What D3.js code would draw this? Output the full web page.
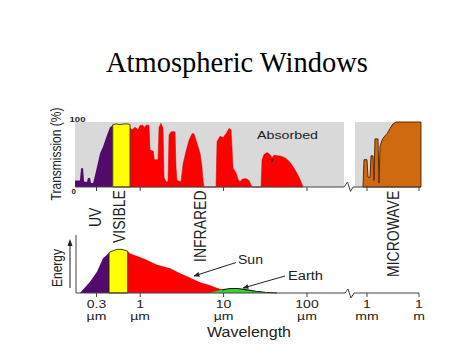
<!DOCTYPE html>
<html><head><meta charset="utf-8">
<script src="https://cdn.jsdelivr.net/npm/d3@7"></script>
<style>html,body{margin:0;padding:0;background:#fff;}svg{display:block}</style>
</head><body>
<svg id="chart" width="474" height="355"></svg>
<script>
// ---------- data ----------
const titleText = "Atmospheric Windows";
const bandLabels = ["UV", "VISIBLE", "INFRARED", "MICROWAVE"];
const tickValues = [0.3, 1, 10, 100, 1000, 1e6];          // wavelength in µm
const tickNumbers = ["0.3", "1", "10", "100", "1", "1"];
const tickUnits = ["µm", "µm", "µm", "µm", "mm", "m"];
const yTickLabels = ["0", "100"];

// atmospheric transmission (%) vs wavelength (µm)
const uvLambda = [0.166, 0.166, 0.190, 0.196, 0.207, 0.213, 0.231, 0.237, 0.251, 0.258, 0.273, 0.288, 0.313, 0.331, 0.359, 0.401, 0.436, 0.47, 0.47];
const uvTrans  = [0, 10, 10, 29, 29, 8, 8, 14, 14, 6, 6, 18, 38, 52, 62, 80, 92, 95, 0];
const visLambda = [0.47, 0.47, 0.514, 0.574, 0.641, 0.716, 0.757, 0.757];
const visTrans  = [0, 96, 97, 96, 97, 97, 96, 0];
const irLambda = [0.757, 0.757, 0.80, 0.869, 0.944, 1.0, 1.083, 1.114, 1.177, 1.279, 1.314, 1.44, 1.48, 1.639, 1.685, 1.78, 1.882, 1.934, 2.044, 2.16, 2.221, 2.346, 2.62, 2.694, 2.769, 3.092, 3.268, 3.549, 3.856, 4.189, 4.426, 4.677, 4.943, 5.224, 5.52, 5.675, 5.834, 8.123, 8.351, 9.071, 9.854, 10.7, 11.63, 12.29, 12.63, 12.99, 14.11, 14.91, 15.76, 16.65, 18.59, 20.2, 21.34, 21.94, 28.12, 28.91, 30.55, 33.19, 36.06, 38.1, 40.27, 44.97, 50.22, 56.07, 62.62, 69.94, 78.09, 84.83, 89.65];
const irTrans  = [0, 91, 88, 92, 88, 95, 95, 91, 95, 95, 57, 55, 42, 42, 92, 98, 90, 15, 8, 8, 80, 85, 85, 30, 10, 8, 35, 55, 72, 82, 82, 72, 62, 52, 30, 10, 0, 0, 70, 78, 76, 82, 90, 88, 60, 29, 22, 12, 8, 12, 13, 10, 3, 0, 0, 42, 50, 53, 50, 45, 49, 48, 47, 44, 38, 29, 18, 8, 0];
const mwLambda = [588, 671, 1000, 1142, 1490, 1702, 2220, 2534, 2894, 4311, 4924, 5623, 7336, 9567, 14250, 21230, 31620, 47120, 1.3e6, 1.3e6];
const mwTrans  = [0, 42, 42, 15, 15, 48, 48, 10, 74, 74, 6, 62, 72, 77, 82, 90, 97, 100, 100, 0];

// emitted energy (relative) vs wavelength (µm)
const sunLambda = [0.19, 0.251, 0.304, 0.359, 0.416, 0.424, 0.46, 0.529, 0.607, 0.71, 0.757, 1.083, 1.594, 2.283, 3.008, 3.964, 5.224, 6.883, 8.351, 11.0, 15.76, 25, 43.7];
const sunEnergy = [0, 25, 47, 77, 88, 90, 93, 97, 97, 93, 88, 77, 63, 55, 44, 34, 24, 17, 11, 5, 2, 1, 0];
const sunBandEdges = [0.424, 0.71];
const earthLambda = [6.51, 7.90, 9.59, 11.95, 14.91, 19.11, 24.5, 31.4, 43.7];
const earthEnergy = [0, 4, 7, 10, 10, 7, 4, 1.5, 0];

// ---------- layout ----------
const svg = d3.select("#chart");
const SANS = "'Liberation Sans', Arial, sans-serif";
const C = {grey: "#d9d9d9", purple: "#520a6c", yellow: "#ffff00", red: "#ff0000", orange: "#d06a10", green: "#33d433", axis: "#444"};

const xNear = d3.scaleLog().domain([0.3, 100]).range([96.5, 307]);
const xFar  = d3.scaleLog().domain([1000, 1e6]).range([367, 419]);
const x = v => v < 500 ? xNear(v) : xFar(v);
const yT = d3.scaleLinear().domain([0, 100]).range([187, 122]);
const yE = d3.scaleLinear().domain([0, 100]).range([293, 248]);
const zip = (a, b) => a.map((v, i) => [v, b[i]]);

// title
svg.append("text").attr("x", 237).attr("y", 72).attr("text-anchor", "middle")
  .attr("font-family", "'Liberation Serif','Times New Roman',serif").attr("font-size", 28.5)
  .attr("fill", "#000").text(titleText);

// ---------- top panel: transmission ----------
const topG = svg.append("g");
topG.append("rect").attr("x", 75).attr("y", yT(100)).attr("width", 344 - 75).attr("height", yT(0) - yT(100)).attr("fill", C.grey);
topG.append("rect").attr("x", 355).attr("y", yT(100)).attr("width", 421 - 355).attr("height", yT(0) - yT(100)).attr("fill", C.grey);

const areaT = d3.area().x(d => x(d[0])).y0(yT(0)).y1(d => yT(d[1]));
topG.append("path").attr("d", areaT(zip(uvLambda, uvTrans))).attr("fill", C.purple);
topG.append("path").attr("d", areaT(zip(irLambda, irTrans))).attr("fill", C.red).attr("stroke", "#d00000").attr("stroke-width", 0.5);
topG.append("path").attr("d", areaT(zip(visLambda, visTrans))).attr("fill", C.yellow).attr("stroke", "#3a3a00").attr("stroke-width", 0.9);
topG.append("path").attr("d", areaT(zip(mwLambda, mwTrans))).attr("fill", C.orange).attr("stroke", "#4a2000").attr("stroke-width", 0.9);

// baseline with break
topG.append("path").attr("d", `M75,${yT(0)}H344L347.5,182L350.5,191.5L353,${yT(0)}H421`)
  .attr("fill", "none").attr("stroke", C.axis).attr("stroke-width", 1);
topG.selectAll("line.tick").data(tickValues).join("line")
  .attr("x1", d => x(d)).attr("x2", d => x(d)).attr("y1", yT(0)).attr("y2", yT(0) + 4)
  .attr("stroke", C.axis).attr("stroke-width", 1);

// y tick labels
topG.append("text").attr("x", 73.7).attr("y", 193.5).attr("text-anchor", "middle")
  .attr("font-family", SANS).attr("font-weight", "bold").attr("font-size", 8).attr("fill", "#222").text(yTickLabels[0]);
topG.append("g").attr("transform", "translate(77.5,121.5) scale(1.2,1)").append("text").attr("text-anchor", "middle")
  .attr("font-family", SANS).attr("font-weight", "bold").attr("font-size", 8).attr("fill", "#222").text(yTickLabels[1]);

// y axis title
topG.append("g").attr("transform", "translate(61,154) scale(1.15,1) rotate(-90)").append("text")
  .attr("text-anchor", "middle").attr("font-family", SANS).attr("font-size", 12).attr("fill", "#222").text("Transmission (%)");

// Absorbed
topG.append("text").attr("x", 257).attr("y", 138.5).attr("font-family", SANS).attr("font-size", 11)
  .attr("textLength", 61).attr("lengthAdjust", "spacingAndGlyphs").attr("fill", "#222").text("Absorbed");
topG.append("path").attr("d", "M270,159.5L274,159.5L272,163Z").attr("fill", "#222");

// band labels (rotated)
const bandPos = [[101, 227], [125, 243], [206, 262], [399, 277]];
svg.selectAll("g.band").data(bandLabels).join("g")
  .attr("transform", (d, i) => `translate(${bandPos[i][0]},${bandPos[i][1]}) scale(1.2,1) rotate(-90)`)
  .append("text").attr("font-family", SANS).attr("font-size", 14).attr("fill", "#222").text(d => d);

// ---------- bottom panel: energy ----------
const bot = svg.append("g");
const areaE = d3.area().x(d => x(d[0])).y0(yE(0)).y1(d => yE(d[1]));
const sunPts = zip(sunLambda, sunEnergy);
bot.append("path").attr("d", areaE(sunPts.filter(d => d[0] <= sunBandEdges[0]))).attr("fill", C.purple);
bot.append("path").attr("d", areaE(sunPts.filter(d => d[0] >= sunBandEdges[1]))).attr("fill", C.red);
bot.append("path").attr("d", areaE(sunPts.filter(d => d[0] >= sunBandEdges[0] && d[0] <= sunBandEdges[1])))
  .attr("fill", C.yellow).attr("stroke", "#2a2a00").attr("stroke-width", 0.9);
const earthPts = zip(earthLambda, earthEnergy);
bot.append("path").attr("d", areaE(earthPts)).attr("fill", C.green);
bot.append("path").attr("d", d3.line().x(d => x(d[0])).y(d => yE(d[1]))(earthPts.filter(d => d[0] >= 9.5)))
  .attr("fill", "none").attr("stroke", "#1a1a1a").attr("stroke-width", 1.1);

// axes
bot.append("line").attr("x1", 76).attr("x2", 76).attr("y1", 235).attr("y2", yE(0)).attr("stroke", C.axis);
bot.append("path").attr("d", `M76,${yE(0)}H345L348,289L351,298L354,${yE(0)}H419`)
  .attr("fill", "none").attr("stroke", C.axis).attr("stroke-width", 1);
bot.selectAll("line.tick").data(tickValues).join("line")
  .attr("x1", d => x(d)).attr("x2", d => x(d)).attr("y1", yE(0)).attr("y2", yE(0) + 4)
  .attr("stroke", C.axis).attr("stroke-width", 1);

// tick labels: number over unit
const tl = bot.selectAll("g.tl").data(tickValues).join("g")
  .attr("transform", d => `translate(${x(d)},0)`);
tl.append("g").attr("transform", "translate(0,307.5) scale(1.35,1)").append("text")
  .attr("text-anchor", "middle").attr("font-family", SANS).attr("font-size", 10.4).attr("fill", "#222")
  .text((d, i) => tickNumbers[i]);
tl.append("g").attr("transform", "translate(0,319.5) scale(1.35,1)").append("text")
  .attr("text-anchor", "middle").attr("font-family", SANS).attr("font-size", 10.4).attr("fill", "#222")
  .text((d, i) => tickUnits[i]);

bot.append("text").attr("x", 207).attr("y", 336.5).attr("font-family", SANS).attr("font-size", 14)
  .attr("textLength", 84).attr("lengthAdjust", "spacingAndGlyphs").attr("fill", "#222").text("Wavelength");

// Energy label + arrow
bot.append("g").attr("transform", "translate(61.5,268) scale(1.15,1) rotate(-90)").append("text")
  .attr("text-anchor", "middle").attr("font-family", SANS).attr("font-size", 12).attr("fill", "#222").text("Energy");
bot.append("line").attr("x1", 70).attr("x2", 70).attr("y1", 288).attr("y2", 245).attr("stroke", "#222");
bot.append("path").attr("d", "M70,239L67.5,246L72.5,246Z").attr("fill", "#222");

// Sun / Earth annotations
const defs = svg.append("defs");
defs.append("marker").attr("id", "ah").attr("viewBox", "0 0 10 10").attr("refX", 9).attr("refY", 5)
  .attr("markerWidth", 7).attr("markerHeight", 6).attr("orient", "auto")
  .append("path").attr("d", "M0,1L10,5L0,9Z").attr("fill", "#222");
bot.append("line").attr("x1", 236).attr("y1", 262.5).attr("x2", 194).attr("y2", 276)
  .attr("stroke", "#222").attr("stroke-width", 1).attr("marker-end", "url(#ah)");
bot.append("text").attr("x", 238).attr("y", 263.5).attr("font-family", SANS).attr("font-size", 12)
  .attr("textLength", 25).attr("lengthAdjust", "spacingAndGlyphs").attr("fill", "#222").text("Sun");
bot.append("line").attr("x1", 285).attr("y1", 276).attr("x2", 243).attr("y2", 288)
  .attr("stroke", "#222").attr("stroke-width", 1).attr("marker-end", "url(#ah)");
bot.append("text").attr("x", 288).attr("y", 280).attr("font-family", SANS).attr("font-size", 12)
  .attr("textLength", 35).attr("lengthAdjust", "spacingAndGlyphs").attr("fill", "#222").text("Earth");
</script>
</body></html>
